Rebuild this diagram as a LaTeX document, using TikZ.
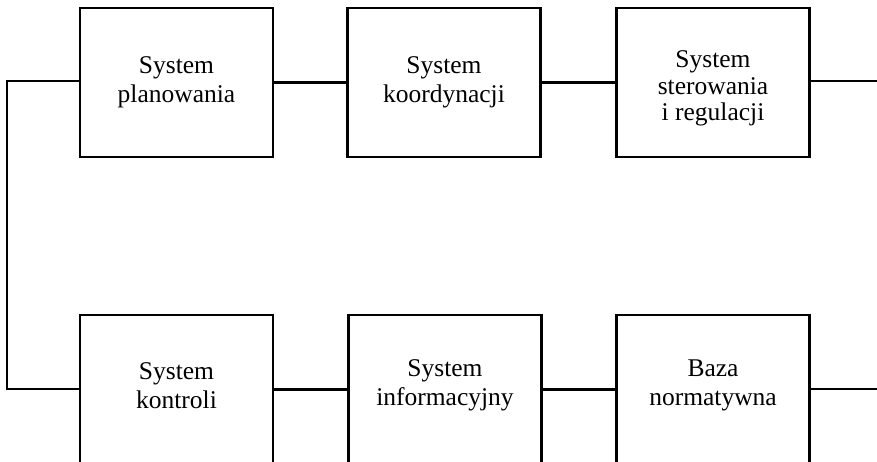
\documentclass[tikz,border=0pt]{standalone}
\usepackage{fontspec}
\setmainfont{Liberation Serif}
\begin{document}
\begin{tikzpicture}[x=1pt,y=-1pt,
  tekst/.style={align=center, inner sep=0pt, font=\fontsize{25.5}{29.5}\selectfont},
  blok/.style={draw, line width=2.2pt, minimum width=193pt, minimum height=149pt,
    inner sep=0pt, tekst},
  lacz/.style={line width=2.2pt}]
\useasboundingbox (0,0) rectangle (877,462);
\node[blok] (p) at (176.5,82.5) {System\\planowania};
\node[blok] (k) at (444,82.5) {System\\koordynacji};
\node[blok, label={[tekst, font=\fontsize{25.5}{26.5}\selectfont, yshift=-6pt]center:{System\\sterowania\\i regulacji}}] (s) at (713,82.5) {};
\node[blok, label={[tekst, yshift=4pt]center:{System\\kontroli}}] (c) at (176.5,389.5) {};
\node[blok, label={[tekst, yshift=4pt]center:{System\\informacyjny}}] (i) at (445,389.5) {};
\node[blok, label={[tekst, yshift=4pt]center:{Baza\\normatywna}}] (b) at (713,389.5) {};
\coordinate (tr) at (877,81);
\coordinate (br) at (877,389);
\coordinate (lt) at (7,81);
\coordinate (lb) at (7,389);
\draw[lacz] (p) -- (k);
\draw[lacz] (k) -- (s);
\draw[lacz] (s.east |- tr) -- (tr);
\draw[lacz] (p.west |- lt) -- (lt) -- (lb) -- (c.west |- lb);
\draw[lacz] (c) -- (i);
\draw[lacz] (i) -- (b);
\draw[lacz] (b.east |- br) -- (br);
\end{tikzpicture}
\end{document}
